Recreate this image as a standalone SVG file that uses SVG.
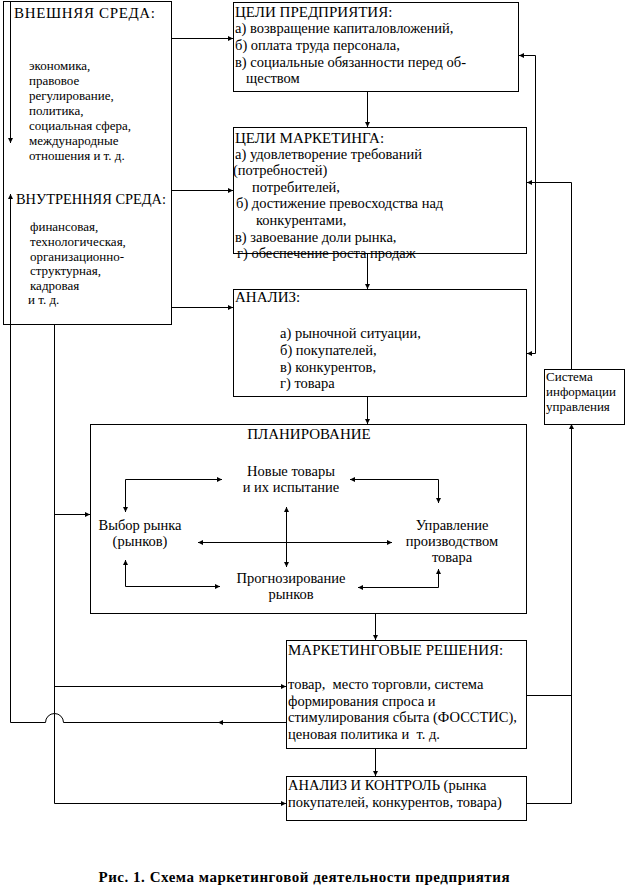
<svg xmlns="http://www.w3.org/2000/svg" width="626" height="894" viewBox="0 0 626 894">
<defs>
<marker id="ah" markerUnits="userSpaceOnUse" markerWidth="6" markerHeight="6" refX="5" refY="2.5" orient="auto-start-reverse"><path d="M0,0 L5,2.5 L0,5 z" fill="#000"/></marker>
<style>
.box{fill:none;stroke:#000;stroke-width:1}
.c{fill:none;stroke:#000;stroke-width:1}
.a{marker-end:url(#ah)}
.aa{marker-start:url(#ah);marker-end:url(#ah)}
text{font-family:"Liberation Serif","Times New Roman",serif;fill:#000}
.h{font-size:15px}
.t{font-size:14.5px}
.s{font-size:13px}
.i{font-size:13px}
.m{text-anchor:middle}
.cap{font-size:15px;font-weight:bold;text-anchor:middle}
</style>
</defs>
<rect width="626" height="894" fill="#fff"/>
<g id="connectors">
<path class="c a" d="M10.5,1 V143"/>
<path class="c a" d="M171,38.5 H233"/>
<path class="c a" d="M171,190.5 H233"/>
<path class="c a" d="M171,307.5 H233"/>
<path class="c a" d="M367.5,91 V127"/>
<path class="c a" d="M367.5,253 V289"/>
<path class="c a" d="M367.5,397 V424"/>
<path class="c a" d="M375.5,613 V640"/>
<path class="c a" d="M375.5,749 V776"/>
<path class="c aa" d="M519,55.5 H535.5 V353.5 H527"/>
<path class="c a" d="M571.5,369 V182.5 H527"/>
<path class="c a" d="M571.5,803.5 V424"/>
<path class="c" d="M527,695.5 H571.5"/>
<path class="c" d="M527,803.5 H571.5"/>
<path class="c a" d="M54.5,324 V803.5 H286"/>
<path class="c a" d="M54.5,514.5 H90"/>
<path class="c a" d="M54.5,686.5 H286"/>
<path class="c a" d="M286,722.5 H218"/>
<path class="c a" d="M219,722.5 H63.5 A9,9 0 0 0 45.5,722.5 H10.5 V194"/>
<path class="c aa" d="M222,479.5 H125.5 V512"/>
<path class="c aa" d="M350,479.5 H438.5 V503"/>
<path class="c aa" d="M198,542.5 H392"/>
<path class="c aa" d="M286.5,507 V567"/>
<path class="c aa" d="M125.5,560 V586.5 H220"/>
<path class="c aa" d="M358,587.5 H438.5 V569"/>
</g>
<g id="env">
<rect class="box" x="3.5" y="1.5" width="168" height="323"/>
<text class="h" x="14" y="18" textLength="141" lengthAdjust="spacing">ВНЕШНЯЯ СРЕДА:</text>
<text class="s" x="29" y="70">экономика,</text>
<text class="s" x="29" y="85">правовое</text>
<text class="s" x="29" y="100">регулирование,</text>
<text class="s" x="29" y="115">политика,</text>
<text class="s" x="29" y="130">социальная сфера,</text>
<text class="s" x="29" y="145">международные</text>
<text class="s" x="29" y="160">отношения и т. д.</text>
<text class="h" x="16" y="204" textLength="150" lengthAdjust="spacingAndGlyphs">ВНУТРЕННЯЯ СРЕДА:</text>
<text class="s" x="30" y="231">финансовая,</text>
<text class="s" x="30" y="246">технологическая,</text>
<text class="s" x="30" y="261">организационно-</text>
<text class="s" x="30" y="275">структурная,</text>
<text class="s" x="30" y="290">кадровая</text>
<text class="s" x="28" y="304">и т. д.</text>
</g>
<g id="goals">
<rect class="box" x="233.5" y="2.5" width="285" height="89"/>
<text class="h" x="235" y="17">ЦЕЛИ ПРЕДПРИЯТИЯ:</text>
<text class="t" x="235" y="33">а) возвращение капиталовложений,</text>
<text class="t" x="235" y="50">б) оплата труда персонала,</text>
<text class="t" x="235" y="67">в) социальные обязанности перед об-</text>
<text class="t" x="246" y="83">ществом</text>
</g>
<g id="mgoals">
<rect class="box" x="233.5" y="127.5" width="293" height="126"/>
<text class="h" x="235" y="143">ЦЕЛИ МАРКЕТИНГА:</text>
<text class="t" x="235" y="159">а) удовлетворение требований</text>
<text class="t" x="233" y="175">(потребностей)</text>
<text class="t" x="252" y="192">потребителей,</text>
<text class="t" x="236" y="208">б) достижение превосходства над</text>
<text class="t" x="256" y="225">конкурентами,</text>
<text class="t" x="235" y="242">в) завоевание доли рынка,</text>
<text class="t" x="237" y="258">г) обеспечение роста продаж</text>
</g>
<g id="analysis">
<rect class="box" x="233.5" y="289.5" width="293" height="107"/>
<text class="h" x="235" y="302">АНАЛИЗ:</text>
<text class="t" x="280" y="338">а) рыночной ситуации,</text>
<text class="t" x="280" y="355">б) покупателей,</text>
<text class="t" x="280" y="372">в) конкурентов,</text>
<text class="t" x="280" y="388">г) товара</text>
</g>
<g id="info">
<rect class="box" x="544.5" y="369.5" width="80" height="55"/>
<text class="i" x="546" y="381">Система</text>
<text class="i" x="546" y="396">информации</text>
<text class="i" x="546" y="411">управления</text>
</g>
<g id="planning">
<rect class="box" x="90.5" y="424.5" width="436" height="189"/>
<text class="h m" x="309" y="439">ПЛАНИРОВАНИЕ</text>
<text class="t m" x="291" y="476">Новые товары</text>
<text class="t m" x="291" y="492">и их испытание</text>
<text class="t m" x="140" y="530">Выбор рынка</text>
<text class="t m" x="140" y="546">(рынков)</text>
<text class="t m" x="452" y="530">Управление</text>
<text class="t m" x="452" y="546">производством</text>
<text class="t m" x="452" y="562">товара</text>
<text class="t m" x="291" y="583">Прогнозирование</text>
<text class="t m" x="291" y="599">рынков</text>
</g>
<g id="decisions">
<rect class="box" x="286.5" y="640.5" width="240" height="108"/>
<text class="h" x="288" y="655">МАРКЕТИНГОВЫЕ РЕШЕНИЯ:</text>
<text class="t" x="288" y="689" xml:space="preserve">товар,  место торговли, система</text>
<text class="t" x="288" y="706">формирования спроса и</text>
<text class="t" x="288" y="722">стимулирования сбыта (ФОССТИС),</text>
<text class="t" x="288" y="739" xml:space="preserve">ценовая политика и  т. д.</text>
</g>
<g id="control">
<rect class="box" x="286.5" y="776.5" width="240" height="44"/>
<text class="t" x="288" y="790">АНАЛИЗ И КОНТРОЛЬ (рынка</text>
<text class="t" x="288" y="807">покупателей, конкурентов, товара)</text>
</g>
<text class="cap" x="304" y="882" textLength="411" lengthAdjust="spacing">Рис. 1. Схема маркетинговой деятельности предприятия</text>
</svg>
